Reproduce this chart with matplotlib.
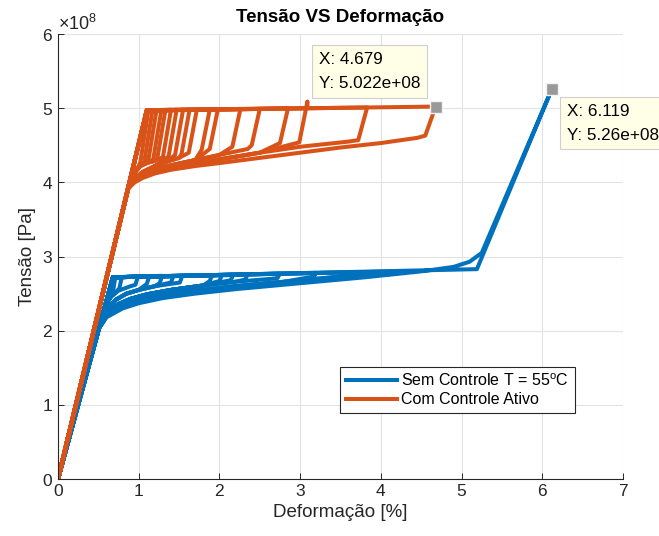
import matplotlib

matplotlib.use("Agg")
import matplotlib.pyplot as plt
import numpy as np
from matplotlib.ticker import ScalarFormatter


SCALE = 1e8  # stress values below are read in units of 1e8 Pa

BLUE = "#0072BD"
ORANGE = "#D95319"

# --- Sem Controle T = 55 oC -------------------------------------------------
blue_knee_load = [0.68, 2.72]          # end of elastic loading
blue_peak = [0.71, 0.79, 0.99, 1.13, 1.29, 1.43, 1.54, 1.91, 2.03, 2.17,
             2.35, 2.75, 3.20, 3.70, 4.20]
blue_top = [2.72, 2.72, 2.73, 2.73, 2.74, 2.74, 2.74, 2.75, 2.75, 2.75,
            2.76, 2.77, 2.78, 2.79, 2.80]
blue_bot_x = [0.68, 0.76, 0.96, 1.10, 1.26, 1.40, 1.51, 1.88, 2.00, 2.14,
              2.32, 2.72, 3.17, 3.67, 4.17]
blue_bot_y = [2.52, 2.57, 2.62, 2.63, 2.64, 2.65, 2.65, 2.67, 2.67, 2.68,
              2.69, 2.71, 2.73, 2.75, 2.77]
blue_family = [1, 1, 1, 2, 2, 2, 2, 3, 3, 3, 3, 3, 4, 4, 4]

# return (reverse transformation) branches, highest to lowest
blue_ret1_x = [0.50, 0.55, 0.60, 0.66, 0.75, 0.90]
blue_ret1_y = [2.02, 2.22, 2.36, 2.46, 2.54, 2.60]
blue_ret2_x = [0.50, 0.56, 0.63, 0.72, 0.85, 1.00, 1.20, 1.45]
blue_ret2_y = [2.02, 2.20, 2.32, 2.42, 2.50, 2.55, 2.60, 2.64]
blue_ret3_x = [0.50, 0.57, 0.65, 0.75, 0.90, 1.10, 1.40, 1.80, 2.20, 2.65]
blue_ret3_y = [2.02, 2.18, 2.28, 2.36, 2.43, 2.49, 2.55, 2.61, 2.66, 2.70]
blue_ret4_x = [0.50, 0.60, 0.70, 0.85, 1.00, 1.30, 1.70, 2.20, 2.80, 3.40, 4.10]
blue_ret4_y = [2.02, 2.19, 2.28, 2.36, 2.41, 2.48, 2.54, 2.60, 2.66, 2.72, 2.76]
blue_ret5_x = [0.50, 0.60, 0.80, 1.00, 1.30, 1.70, 2.20, 3.00, 3.80, 4.50,
               4.90, 5.10, 5.25]
blue_ret5_y = [2.02, 2.18, 2.30, 2.37, 2.44, 2.50, 2.56, 2.64, 2.72, 2.80,
               2.86, 2.93, 3.05]
blue_final_x = [5.19, 6.119, 5.25]
blue_final_y = [2.83, 5.26, 3.05]

# --- Com Controle Ativo ------------------------------------------------------
orange_knee_load = [1.10, 4.97]
orange_peak = [1.12, 1.17, 1.22, 1.28, 1.33, 1.40, 1.47, 1.55, 1.63, 1.72,
               1.88, 1.98, 2.26, 2.50, 2.85, 3.09, 3.83, 4.679]
orange_top = [4.97, 4.97, 4.97, 4.97, 4.97, 4.98, 4.98, 4.98, 4.98, 4.98,
              4.98, 4.98, 4.99, 4.99, 5.00, 5.00, 5.01, 5.022]
orange_spike = [4.97, 4.97, 4.97, 4.97, 4.97, 4.98, 4.98, 4.98, 4.98, 4.98,
                4.98, 4.98, 4.99, 4.99, 5.00, 5.09, 5.01, 5.022]
orange_bot_x = [1.02, 1.07, 1.12, 1.18, 1.23, 1.30, 1.37, 1.45, 1.53, 1.62,
                1.78, 1.88, 2.16, 2.40, 2.75, 2.99, 3.72, 4.55]
orange_bot_y = [4.27, 4.28, 4.30, 4.31, 4.32, 4.34, 4.35, 4.37, 4.38, 4.40,
                4.44, 4.45, 4.48, 4.50, 4.53, 4.54, 4.57, 4.63]
orange_family = [1, 1, 1, 1, 1, 1, 2, 2, 2, 2, 3, 3, 3, 3, 4, 4, 4, 5]

orange_ret1_x = [0.87, 0.92, 0.97, 1.02, 1.10, 1.20, 1.30]
orange_ret1_y = [3.92, 4.06, 4.16, 4.22, 4.26, 4.29, 4.32]
orange_ret2_x = [0.87, 0.95, 1.05, 1.20, 1.35, 1.50, 1.60]
orange_ret2_y = [3.92, 4.05, 4.14, 4.22, 4.28, 4.33, 4.36]
orange_ret3_x = [0.87, 0.95, 1.05, 1.20, 1.40, 1.70, 2.00, 2.35]
orange_ret3_y = [3.92, 4.03, 4.10, 4.17, 4.23, 4.30, 4.37, 4.45]
orange_ret4_x = [0.87, 0.95, 1.05, 1.20, 1.40, 1.70, 2.00, 2.50, 3.00, 3.60]
orange_ret4_y = [3.92, 4.01, 4.08, 4.14, 4.20, 4.26, 4.31, 4.40, 4.48, 4.55]
orange_ret5_x = [0.87, 0.95, 1.05, 1.20, 1.40, 1.70, 2.00, 2.50, 3.00, 3.50,
                 4.00, 4.45]
orange_ret5_y = [3.92, 4.00, 4.06, 4.12, 4.17, 4.22, 4.26, 4.33, 4.40, 4.47,
                 4.53, 4.60]

# data tips
tip_points_x = [4.679, 6.119]
tip_points_y = [5.022, 5.26]
tip_texts = ["X: 4.679\nY: 5.022e+08", "X: 6.119\nY: 5.26e+08"]


def cycle(knee, peak, top, spike, bot_x, bot_y, ret_x, ret_y):
    xs = [0.0, knee[0], peak, peak, bot_x]
    ys = [0.0, knee[1], top, spike, bot_y]
    back = [(x, y) for x, y in zip(ret_x, ret_y) if x < bot_x - 0.02]
    for x, y in reversed(back):
        xs.append(x)
        ys.append(y)
    xs.append(0.0)
    ys.append(0.0)
    return np.array(xs), np.array(ys) * SCALE


def main() -> None:
    plt.rcParams.update(
        {
            "font.family": ["Liberation Sans", "DejaVu Sans"],
            "mathtext.fontset": "custom",
            "mathtext.rm": "Liberation Sans",
            "mathtext.it": "Liberation Sans",
            "font.size": 12.5,
            "axes.linewidth": 0.8,
            "xtick.direction": "in",
            "ytick.direction": "in",
        }
    )

    blue_rets = {
        1: (blue_ret1_x, blue_ret1_y), 2: (blue_ret2_x, blue_ret2_y),
        3: (blue_ret3_x, blue_ret3_y), 4: (blue_ret4_x, blue_ret4_y),
        5: (blue_ret5_x, blue_ret5_y),
    }
    orange_rets = {
        1: (orange_ret1_x, orange_ret1_y), 2: (orange_ret2_x, orange_ret2_y),
        3: (orange_ret3_x, orange_ret3_y), 4: (orange_ret4_x, orange_ret4_y),
        5: (orange_ret5_x, orange_ret5_y),
    }

    fig = plt.figure(figsize=(6.59, 5.36), dpi=100)
    ax = fig.add_axes([0.088, 0.1063, 0.8574, 0.8302])

    lw = 2.9
    for i in range(len(blue_peak)):
        rx, ry = blue_rets[blue_family[i]]
        x, y = cycle(blue_knee_load, blue_peak[i], blue_top[i], blue_top[i],
                     blue_bot_x[i], blue_bot_y[i], rx, ry)
        ax.plot(x, y, color=BLUE, lw=lw, solid_joinstyle="round",
                label="Sem Controle T = 55$^{\\rm o}$C" if i == 0 else None)
    fx = [0.0, blue_knee_load[0]] + blue_final_x + blue_ret5_x[::-1][1:] + [0.0]
    fy = [0.0, blue_knee_load[1]] + blue_final_y + blue_ret5_y[::-1][1:] + [0.0]
    ax.plot(fx, np.array(fy) * SCALE, color=BLUE, lw=lw, solid_joinstyle="round")

    for i in range(len(orange_peak)):
        rx, ry = orange_rets[orange_family[i]]
        x, y = cycle(orange_knee_load, orange_peak[i], orange_top[i], orange_spike[i],
                     orange_bot_x[i], orange_bot_y[i], rx, ry)
        ax.plot(x, y, color=ORANGE, lw=lw, solid_joinstyle="round",
                label="Com Controle Ativo" if i == 0 else None)

    ax.set_xlim(0, 7)
    ax.set_ylim(0, 6 * SCALE)
    ax.set_xticks(range(0, 8))
    ax.set_yticks(np.arange(0, 7) * SCALE)
    fmt = ScalarFormatter(useMathText=True)
    fmt.set_powerlimits((0, 0))
    ax.yaxis.set_major_formatter(fmt)
    ax.yaxis.get_offset_text().set_fontsize(13)
    ax.tick_params(length=4, width=0.7, colors="#262626", labelsize=12.5)

    ax.grid(True, color="#E3E3E3", linewidth=0.8)
    ax.set_axisbelow(True)
    ax.spines["top"].set_visible(False)
    ax.spines["right"].set_visible(False)
    ax.spines["left"].set_color("#262626")
    ax.spines["bottom"].set_color("#262626")

    ax.set_title("Tensão VS Deformação", fontsize=13.5, fontweight="bold", pad=9)
    ax.set_xlabel("Deformação [%]", fontsize=13.5, color="#262626")
    ax.set_ylabel("Tensão [Pa]", fontsize=13.5, color="#262626")

    leg = ax.legend(loc="upper left", bbox_to_anchor=(0.499, 0.252), fontsize=11.5,
                    handlelength=3.2, frameon=True, fancybox=False, framealpha=1,
                    edgecolor="#262626", borderpad=0.35, labelspacing=0.2,
                    handletextpad=0.3, borderaxespad=0)
    leg.get_frame().set_linewidth(0.8)

    ax.plot(np.array(tip_points_x), np.array(tip_points_y) * SCALE, ls="none",
            marker="s", ms=8.5, mfc="#999999", mec="#F2F2F2", mew=1.0, zorder=5,
            clip_on=False)
    offsets = [(-11, 11), (11, -10.5)]
    aligns = [("right", "bottom"), ("left", "top")]
    for px, py, txt, off, (ha, va) in zip(tip_points_x, tip_points_y, tip_texts,
                                           offsets, aligns):
        ax.annotate(txt, xy=(px, py * SCALE), xytext=off, textcoords="offset points",
                    ha=ha, va=va, multialignment="left", fontsize=12.3,
                    linespacing=1.75, zorder=6, annotation_clip=False,
                    bbox=dict(boxstyle="square,pad=0.4", fc="#FFFFE8",
                              ec="#CFCFCF", lw=0.8))

    fig.savefig("out.png", dpi=100)
    plt.close(fig)


if __name__ == "__main__":
    main()
